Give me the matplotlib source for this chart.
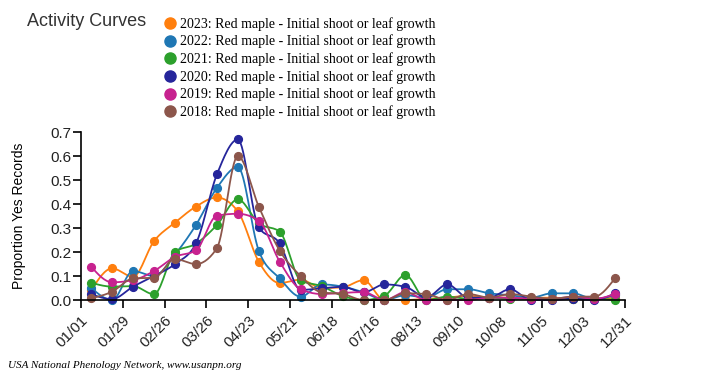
# Red maple activity curves, 2018-2023
import numpy as np
import matplotlib
matplotlib.use('Agg')
import matplotlib.pyplot as plt
import matplotlib.transforms as mtransforms
from matplotlib.lines import Line2D

tick_labels = ['01/01', '01/29', '02/26', '03/26', '04/23', '05/21', '06/18',
               '07/16', '08/13', '09/10', '10/08', '11/05', '12/03', '12/31']
tick_days = np.arange(0, 365, 28)
sample_days = 7 + 14 * np.arange(26)

years = ['2023', '2022', '2021', '2020', '2019', '2018']
colors = ['#ff7f0e', '#1f77b4', '#2ca02c', '#25259b', '#c7228f', '#8c564b']

y2023 = [0.04, 0.132, 0.097, 0.246, 0.323, 0.39, 0.428, 0.37, 0.16, 0.071, 0.085, 0.05, 0.053,
         0.083, 0.0, 0.0, 0.005, 0.01, 0.018, 0.01, 0.01, 0.01, 0.01, 0.005, 0.005, 0.01]
y2022 = [0.051, 0.0, 0.121, 0.1, 0.19, 0.313, 0.468, 0.555, 0.206, 0.09, 0.014, 0.065, 0.056,
         0.032, 0.0, 0.02, 0.01, 0.045, 0.045, 0.028, 0.02, 0.01, 0.028, 0.028, 0.005, 0.02]
y2021 = [0.072, 0.056, 0.058, 0.024, 0.2, 0.235, 0.313, 0.42, 0.32, 0.285, 0.082, 0.058, 0.017,
         0.0, 0.018, 0.104, 0.0, 0.014, 0.005, 0.01, 0.005, 0.005, 0.005, 0.005, 0.005, 0.0]
y2020 = [0.024, 0.004, 0.056, 0.1, 0.15, 0.236, 0.524, 0.67, 0.303, 0.236, 0.042, 0.049, 0.055,
         0.032, 0.065, 0.055, 0.011, 0.065, 0.01, 0.01, 0.045, 0.0, 0.0, 0.005, 0.0, 0.028]
y2019 = [0.139, 0.074, 0.083, 0.121, 0.18, 0.207, 0.352, 0.36, 0.331, 0.16, 0.045, 0.025, 0.03,
         0.033, 0.0, 0.033, 0.0, 0.0, 0.0, 0.01, 0.01, 0.005, 0.005, 0.014, 0.005, 0.025]
y2018 = [0.007, 0.035, 0.09, 0.093, 0.171, 0.15, 0.216, 0.601, 0.39, 0.206, 0.1, 0.032, 0.025,
         0.0, 0.0, 0.028, 0.025, 0.0, 0.025, 0.01, 0.025, 0.014, 0.005, 0.014, 0.014, 0.09]
series = [y2023, y2022, y2021, y2020, y2019, y2018]


def monotone_line(x, y, steps=16):
    # smooth drawing path through the points (monotone cubic, like d3 curveMonotoneX)
    x = np.asarray(x, float)
    y = np.asarray(y, float)
    h = np.diff(x)
    s = np.diff(y) / h
    t = np.zeros(len(x))
    for i in range(1, len(x) - 1):
        p = (s[i - 1] * h[i] + s[i] * h[i - 1]) / (h[i - 1] + h[i])
        t[i] = (np.sign(s[i - 1]) + np.sign(s[i])) * min(abs(s[i - 1]), abs(s[i]), 0.5 * abs(p))
    t[0] = (3 * s[0] - t[1]) / 2
    t[-1] = (3 * s[-1] - t[-2]) / 2
    xs, ys = [], []
    u = np.linspace(0, 1, steps, endpoint=False)
    for i in range(len(x) - 1):
        h00 = 2 * u**3 - 3 * u**2 + 1
        h10 = u**3 - 2 * u**2 + u
        h01 = -2 * u**3 + 3 * u**2
        h11 = u**3 - u**2
        xs.append(x[i] + u * h[i])
        ys.append(h00 * y[i] + h10 * h[i] * t[i] + h01 * y[i + 1] + h11 * h[i] * t[i + 1])
    xs.append([x[-1]])
    ys.append([y[-1]])
    return np.concatenate(xs), np.concatenate(ys)


fig = plt.figure(figsize=(7.05, 3.79), dpi=100)
ax = fig.add_axes([0.1145, 0.2084, 0.7725, 0.4425])

for vals, c in zip(series, colors):
    lx, ly = monotone_line(sample_days, vals)
    ax.plot(lx, ly, color=c, lw=1.3, clip_on=False)
    ax.plot(sample_days, vals, 'o', color=c, ms=5.6, clip_on=False)

ax.set_xlim(0, 364)
ax.set_ylim(0, 0.7)
ax.set_xticks(tick_days)
ax.set_xticklabels(tick_labels, rotation=45, ha='right', rotation_mode='anchor')
ax.set_yticks(np.arange(0, 0.71, 0.1))
ax.set_yticklabels(['%.1f' % v for v in np.arange(0, 0.71, 0.1)])
shift = mtransforms.ScaledTranslation(5 / 100, -3 / 100, fig.dpi_scale_trans)
for lab in ax.get_xticklabels():
    lab.set_transform(lab.get_transform() + shift)
for lab in ax.get_xticklabels() + ax.get_yticklabels():
    lab.set_fontsize(11)
    lab.set_family('Liberation Sans')
    lab.set_color('#222222')
ax.tick_params(length=6, width=1.2, color='black')
ax.tick_params(axis='y', pad=1)
ax.spines['top'].set_visible(False)
ax.spines['right'].set_visible(False)
ax.spines['left'].set_linewidth(1.2)
ax.spines['bottom'].set_linewidth(1.2)
ax.set_ylabel('Proportion Yes Records', fontsize=10, family='Liberation Sans')
ax.yaxis.set_label_coords(-0.100, 0.5)

fig.text(27 / 705, 1 - 22 / 379, 'Activity Curves', fontsize=13, family='Liberation Sans',
         color='#333333', va='center', ha='left')

handles = [Line2D([], [], marker='o', ls='', color=c, ms=8) for c in colors]
labels = [y + ': Red maple - Initial shoot or leaf growth' for y in years]
fig.legend(handles, labels, loc='upper left', bbox_to_anchor=(155 / 705, 1 - 10 / 379),
           frameon=False, prop={'family': 'Liberation Serif', 'size': 10},
           handletextpad=0.1, labelspacing=0.28, borderpad=0, handlelength=1.2)

fig.text(8 / 705, 1 - 366 / 379, 'USA National Phenology Network, www.usanpn.org',
         fontsize=8, family='Liberation Serif', style='italic', va='center', ha='left')

fig.savefig('out.png', dpi=100)
